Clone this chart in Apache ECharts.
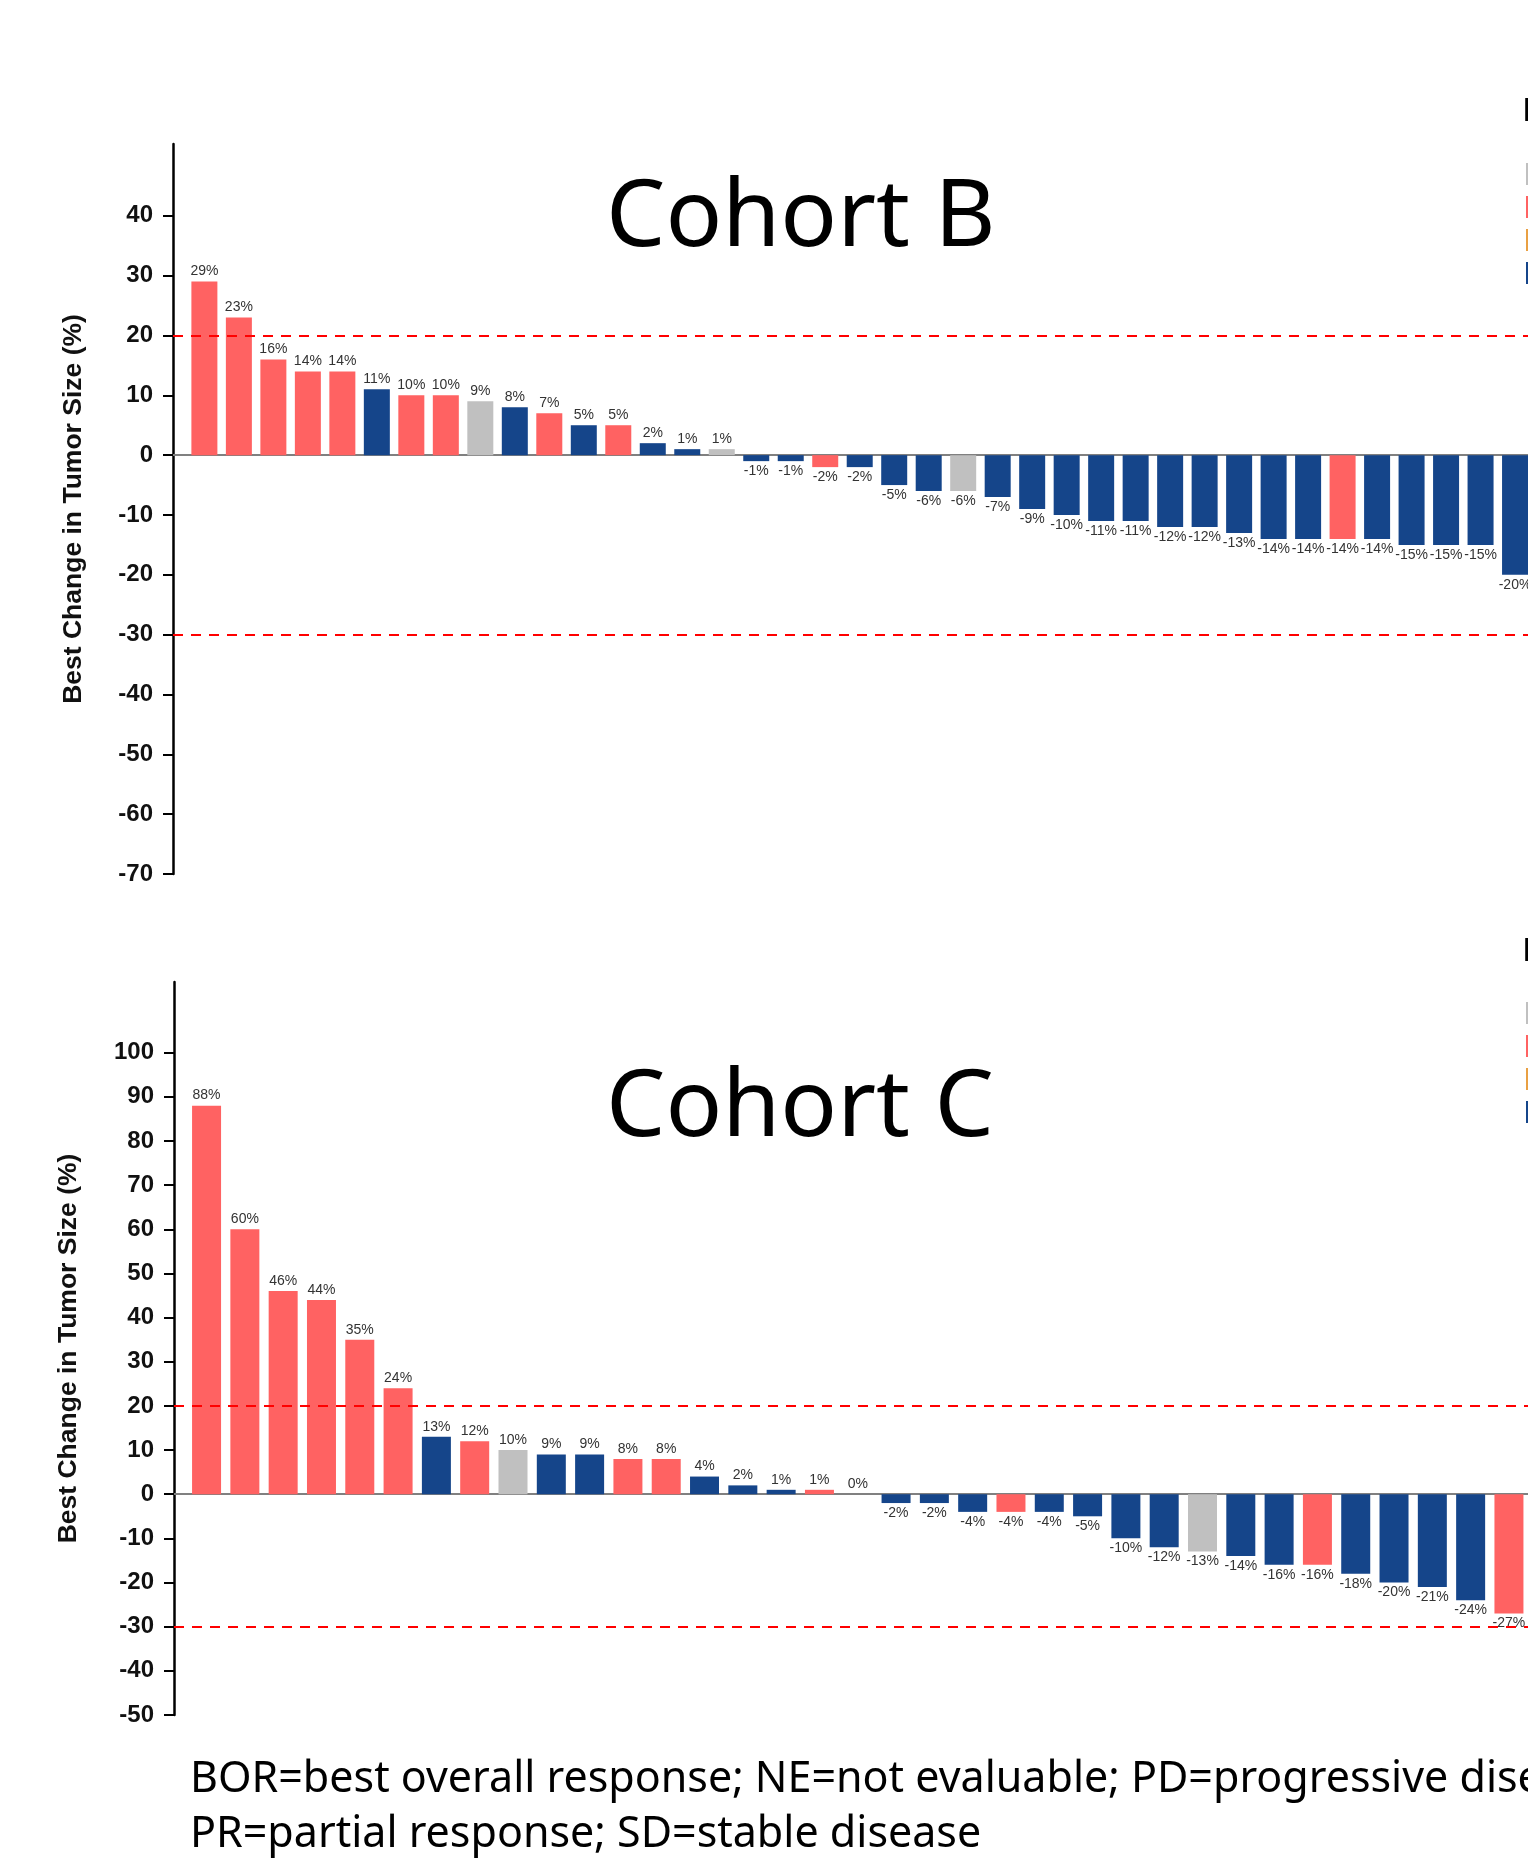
<!DOCTYPE html>
<html lang="en">
<head>
<meta charset="UTF-8">
<title>Best change in tumor size - Cohort B / C</title>
<script src="https://cdn.jsdelivr.net/npm/echarts@6/dist/echarts.min.js"></script>
<style>
  html, body { margin: 0; padding: 0; background: #fff; overflow: hidden; }
  #topRule { position: absolute; left: 37px; top: 0; width: 1491px; height: 2px; background: #e8228a; }
  /* wider than the window on purpose: the original figure is cut at the right edge */
  #chart { position: absolute; left: 0; top: 0; width: 1960px; height: 1860px; }
</style>
</head>
<body>
<div id="topRule"></div>
<div id="chart"></div>
<script>
// best change in tumor size (%), one bar per patient, waterfall order
var cohortBValues = [29, 23, 16, 14, 14, 11, 10, 10, 9, 8, 7, 5, 5, 2, 1, 1,
    -1, -1, -2, -2, -5, -6, -6, -7, -9, -10, -11, -11, -12, -12, -13, -14, -14, -14, -14, -15, -15, -15, -20];
var cohortBBor = ['PD', 'PD', 'PD', 'PD', 'PD', 'SD', 'PD', 'PD', 'NE', 'SD', 'PD', 'SD', 'PD', 'SD', 'SD', 'NE',
    'SD', 'SD', 'PD', 'SD', 'SD', 'SD', 'NE', 'SD', 'SD', 'SD', 'SD', 'SD', 'SD', 'SD', 'SD', 'SD', 'SD', 'PD', 'SD', 'SD', 'SD', 'SD', 'SD'];

var cohortCValues = [88, 60, 46, 44, 35, 24, 13, 12, 10, 9, 9, 8, 8, 4, 2, 1, 1, 0,
    -2, -2, -4, -4, -4, -5, -10, -12, -13, -14, -16, -16, -18, -20, -21, -24, -27];
var cohortCBor = ['PD', 'PD', 'PD', 'PD', 'PD', 'PD', 'SD', 'PD', 'NE', 'SD', 'SD', 'PD', 'PD', 'SD', 'SD', 'SD', 'PD', 'NE',
    'SD', 'SD', 'SD', 'PD', 'SD', 'SD', 'SD', 'SD', 'NE', 'SD', 'SD', 'PD', 'SD', 'SD', 'SD', 'SD', 'PD'];

var ticksB = [-70, -60, -50, -40, -30, -20, -10, 0, 10, 20, 30, 40];
var ticksC = [-50, -40, -30, -20, -10, 0, 10, 20, 30, 40, 50, 60, 70, 80, 90, 100];
var thresholds = [20, -30];

var borOrder = ['NE', 'PD', 'PR', 'SD'];
var borColors = { NE: '#c0c0c0', PD: '#ff6262', PR: '#e9a043', SD: '#15458a' };

var chart = echarts.init(document.getElementById('chart'));

function cohortSeries(values, bor, idx, barWidth) {
    return borOrder.map(function (code) {
        var data = [];
        values.forEach(function (v, i) {
            if (bor[i] !== code) return;
            data.push({ value: [i + 1, v], label: { position: v < 0 ? 'bottom' : 'top' } });
        });
        var s = {
            name: code,
            type: 'bar',
            xAxisIndex: idx,
            yAxisIndex: idx,
            barWidth: barWidth,
            barGap: '-100%',
            itemStyle: { color: borColors[code] },
            label: {
                show: true,
                fontSize: 14,
                fontFamily: 'Liberation Sans',
                color: '#333',
                distance: 3,
                formatter: function (p) { return p.value[1] + '%'; }
            },
            data: data
        };
        if (code === 'SD') {
            s.markLine = {
                silent: true,
                symbol: 'none',
                label: { show: false },
                lineStyle: { color: '#ff0000', width: 2, type: [10, 8] },
                data: thresholds.map(function (t) { return { yAxis: t }; })
            };
        }
        return s;
    });
}

function xAxisFor(idx, min) {
    return {
        type: 'value', gridIndex: idx, min: min, max: 45,
        axisLine: { show: true, onZero: true, lineStyle: { color: '#808080', width: 2 } },
        axisTick: { show: false },
        axisLabel: { show: false },
        splitLine: { show: false }
    };
}

function yAxisFor(idx, min, max, ticks, gap) {
    return {
        type: 'value', gridIndex: idx, min: min, max: max, interval: 10,
        axisLine: { show: true, onZero: false, lineStyle: { color: '#000', width: 2.5 } },
        axisTick: { show: true, length: 10, lineStyle: { color: '#000', width: 2 }, customValues: ticks },
        axisLabel: {
            margin: 20, fontSize: 24, fontWeight: 'bold', color: '#111', fontFamily: 'Liberation Sans',
            customValues: ticks,
            formatter: function (v) { return ticks.indexOf(v) < 0 ? '' : v; }
        },
        splitLine: { show: false },
        name: 'Best Change in Tumor Size (%)',
        nameLocation: 'middle',
        nameRotate: 90,
        nameGap: gap,
        nameTextStyle: { fontSize: 26.5, fontWeight: 'bold', color: '#111', fontFamily: 'Liberation Sans' }
    };
}

function borLegend(top) {
    return {
        orient: 'vertical', left: 1526, top: top, padding: 0,
        itemWidth: 30, itemHeight: 22, itemGap: 11, icon: 'rect',
        selectedMode: false,
        data: borOrder,
        textStyle: { fontSize: 20, color: '#000', fontFamily: 'Liberation Sans' }
    };
}

var bigTitle = { fontFamily: 'Noto Sans', fontSize: 94, fontWeight: 'normal', color: '#000' };
var borTitle = { fontSize: 33, fontWeight: 'bold', color: '#000', fontFamily: 'Liberation Sans' };

var option = {
    animation: false,
    backgroundColor: '#fff',
    title: [
        { text: 'Cohort B', left: 606, top: 172, padding: 0, textStyle: bigTitle },
        { text: 'Cohort C', left: 606, top: 1062, padding: 0, textStyle: bigTitle },
        { text: 'BOR', left: 1523, top: 95, padding: 0, textStyle: borTitle },
        { text: 'BOR', left: 1523, top: 935, padding: 0, textStyle: borTitle },
        {
            text: 'BOR=best overall response; NE=not evaluable; PD=progressive disease;\nPR=partial response; SD=stable disease',
            left: 190, top: 1752, padding: 0,
            textStyle: { fontFamily: 'Noto Sans', fontSize: 43, fontWeight: 'normal', lineHeight: 55, color: '#000' }
        }
    ],
    legend: [borLegend(163), borLegend(1002)],
    grid: [
        { left: 173, top: 144, width: 1549, height: 730 },
        { left: 174, top: 982, width: 1718, height: 733 }
    ],
    xAxis: [xAxisFor(0, 0.09), xAxisFor(1, 0.15)],
    yAxis: [yAxisFor(0, -70, 52, ticksB, 86), yAxisFor(1, -50, 116, ticksC, 92)],
    series: cohortSeries(cohortBValues, cohortBBor, 0, 26).concat(cohortSeries(cohortCValues, cohortCBor, 1, 29))
};

chart.setOption(option);
</script>
</body>
</html>
